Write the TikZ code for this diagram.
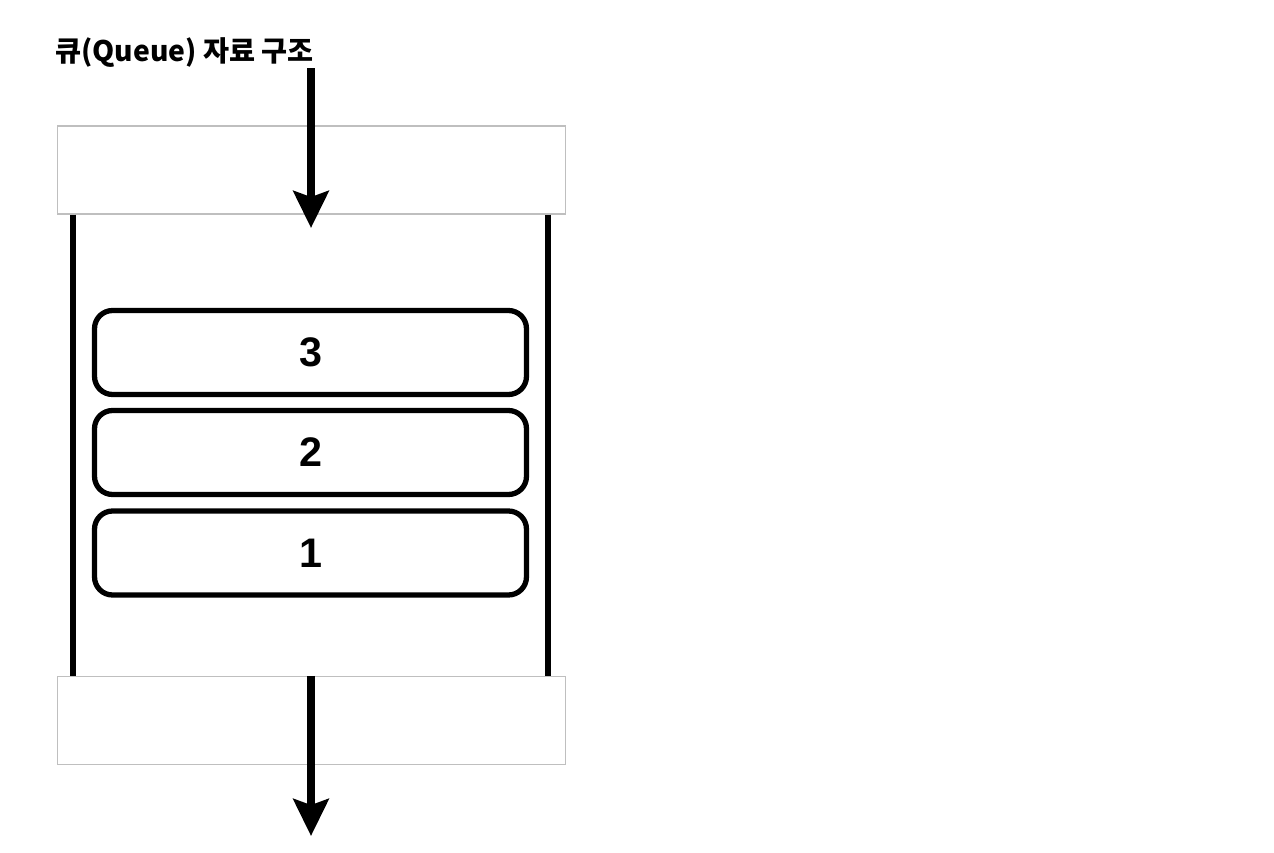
\documentclass[tikz,border=0pt]{standalone}
\usepackage{fontspec}
\setmainfont{Liberation Sans}
\newfontfamily\krfont{Noto Sans CJK KR}
\usepackage{tikz}
\usetikzlibrary{arrows.meta, calc}

\begin{document}
\begin{tikzpicture}[x=0.02cm, y=-0.02cm]
        \tikzstyle{slot} = [draw=black!25, line width=0.6pt, fill=white, rectangle, minimum width=10.18cm, minimum height=1.76cm, inner sep=0pt]
        \tikzstyle{item} = [draw, line width=3pt, rectangle, rounded corners=0.36cm, minimum width=8.64cm, minimum height=1.68cm, inner sep=0pt, font=\fontsize{23.5}{27}\selectfont\bfseries]
        \tikzstyle{wall} = [line width=3pt]
        \tikzstyle{flow} = [-{Stealth[length=21pt, width=20pt, inset=3.4pt]}, line width=4.5pt]
        \useasboundingbox (0,0) rectangle (1274,852);
        \node[anchor=base west, inner sep=0pt, font=\krfont\fontsize{16.1}{19}\selectfont\bfseries] (T) at (55,61) {큐(Queue) 자료 구조};
        \node[slot] (top) at (311.5,170) {};
        \node[slot] (bot) at (311.5,720.5) {};
        \draw[wall] ($(top.south west)+(16.5,0)$) -- ($(bot.north west)+(16.5,0)$);
        \draw[wall] ($(top.south east)+(-18.5,0)$) -- ($(bot.north east)+(-18.5,0)$);
        \node[item] (E3) at (310.5,352.5) {3};
        \node[item] (E2) at (310.5,452.5) {2};
        \node[item] (E1) at (310.5,553) {1};
        \coordinate (in) at (311,68);
        \coordinate (inTip) at (311,228);
        \coordinate (out) at (311,836);
        \draw[flow] (in) -- (inTip);
        \draw[flow] (bot.north -| out) -- (out);
\end{tikzpicture}
\end{document}
